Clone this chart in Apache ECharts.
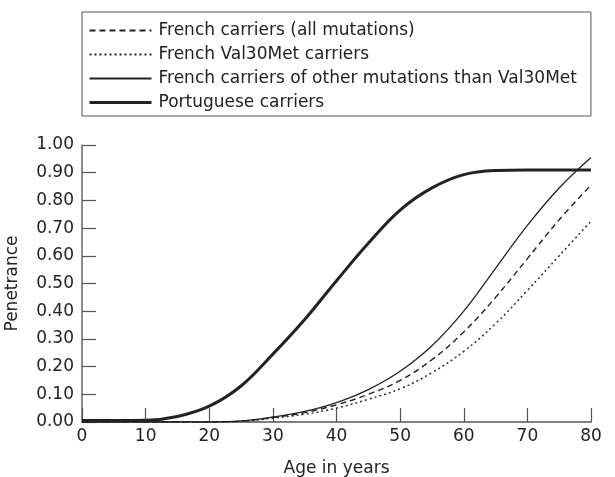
<!DOCTYPE html>
<html><head><meta charset="utf-8">
<script src="https://cdn.jsdelivr.net/npm/echarts@6/dist/echarts.min.js"></script>
<style>html,body{margin:0;padding:0;background:#fff}#c{width:615px;height:477px}</style>
</head><body><div id="c"></div>
<script>
var ages = [0,5,10,15,20,25,30,35,40,45,50,55,60,65,70,75,80];
var frenchAll = [0,0,0,0,0,0.003,0.016,0.034,0.062,0.10,0.15,0.225,0.325,0.45,0.59,0.73,0.855];
var frenchVal = [0,0,0,0,0,0.002,0.014,0.028,0.05,0.082,0.12,0.178,0.255,0.355,0.475,0.60,0.725];
var frenchOther = [0,0,0,0,0,0.004,0.018,0.038,0.07,0.117,0.183,0.275,0.40,0.555,0.71,0.845,0.955];
var portuguese = [0.005,0.005,0.006,0.02,0.057,0.13,0.245,0.37,0.51,0.645,0.765,0.845,0.893,0.908,0.91,0.91,0.91];
var names = ['French carriers (all mutations)','French Val30Met carriers','French carriers of other mutations than Val30Met','Portuguese carriers'];

function pairs(v){return ages.map(function(a,i){return [a,v[i]];});}
var FONT = 'DejaVu Sans';
var chart = echarts.init(document.getElementById('c'));
var ink = '#222';
function mk(name, data, w, type){
  return {name:name,type:'line',data:pairs(data),showSymbol:false,symbol:'none',smooth:0.4,
    lineStyle:{color:ink,width:w,type:type},itemStyle:{color:ink},z:3};
}
chart.setOption({
  animation:false,
  textStyle:{fontFamily:FONT},
  legend:{orient:'vertical',left:82,top:12,
    padding:[10,14,5,6],itemGap:7,itemWidth:62,itemHeight:16,
    borderColor:'#555',borderWidth:1,
    itemStyle:{color:'rgba(0,0,0,0)',borderWidth:0,opacity:0},
    textStyle:{fontFamily:FONT,fontSize:17,color:'#222',padding:[0,0,0,2]},
    data:[names[0],names[1],names[2],{name:names[3],lineStyle:{width:3}}]},
  grid:{left:82,right:24,top:145,bottom:55,containLabel:false,outerBoundsMode:'none'},
  xAxis:{type:'value',min:0,max:80,interval:10,
    name:'Age in years',nameLocation:'middle',nameGap:38,
    nameTextStyle:{fontFamily:FONT,fontSize:17,color:'#222'},
    axisLine:{lineStyle:{color:'#555',width:1.5}},
    axisTick:{inside:true,length:14,lineStyle:{color:'#555',width:1.2}},
    axisLabel:{fontFamily:FONT,fontSize:17,color:'#222',margin:6},
    splitLine:{show:false}},
  yAxis:{type:'value',min:0,max:1,interval:0.1,
    name:'Penetrance',nameLocation:'middle',nameGap:61,
    nameTextStyle:{fontFamily:FONT,fontSize:17,color:'#222'},
    axisLine:{show:true,lineStyle:{color:'#666',width:1.5}},
    axisTick:{show:true,inside:true,length:14,lineStyle:{color:'#555',width:1.2}},
    axisLabel:{fontFamily:FONT,fontSize:17,color:'#222',margin:8,
      formatter:function(v){return v.toFixed(2);}},
    splitLine:{show:false}},
  series:[
    mk(names[0],frenchAll,1.4,[6,4]),
    mk(names[1],frenchVal,1.4,[2,3]),
    mk(names[2],frenchOther,1.3,'solid'),
    mk(names[3],portuguese,3,'solid')
  ]
});
</script></body></html>
